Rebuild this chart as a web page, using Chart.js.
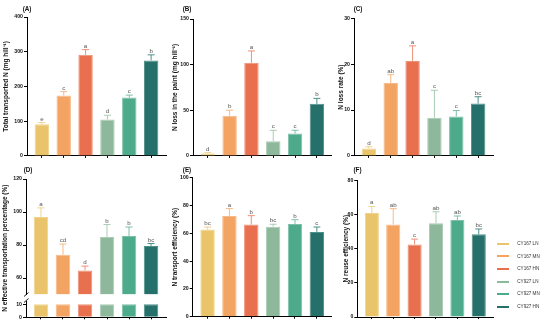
<!DOCTYPE html>
<html><head><meta charset="utf-8">
<script src="https://cdn.jsdelivr.net/npm/chart.js@4.4.1/dist/chart.umd.min.js"></script>
<style>
html,body{margin:0;padding:0;background:#fff;}
#wrap{position:relative;width:550px;height:323px;overflow:hidden;background:#fff;}
#wrap canvas{position:absolute;}
</style></head><body>
<div id="wrap"></div>
<script>
// ---------- data ----------
const categories = ['CY167 LN','CY167 MN','CY167 HN','CY927 LN','CY927 MN','CY927 HN'];

const totalN      = [91, 174, 291, 105, 168, 275];
const totalNErr   = [5, 11, 15, 12, 7, 16];
const totalNSig   = ['e','c','a','d','c','b'];
const totalNTicks = [0, 100, 200, 300, 400];

const lossN      = [2.5, 44, 102, 16, 24.6, 57];
const lossNErr   = [1, 6, 13, 12, 3.5, 6];
const lossNSig   = ['d','b','a','c','c','b'];
const lossNTicks = [0, 50, 100, 150];

const lossRate      = [1.6, 15.9, 20.7, 8.3, 8.6, 11.4];
const lossRateErr   = [0.4, 1.8, 3.3, 6.0, 1.3, 1.5];
const lossRateSig   = ['d','ab','a','c','c','bc'];
const lossRateTicks = [0, 10, 20, 30];

const effTrans       = [97, 74.1, 64.6, 84.8, 85.4, 79.4];
const effTransErr    = [5.5, 6.5, 2.6, 7.6, 5.5, 1.5];
const effTransSig    = ['a','cd','d','b','b','bc'];
const effTransTicksUpper = [60, 80, 100, 120];
const effTransTicksLower = [0, 10];
const effTransBreakLow = 10;   // top of lower segment
const effTransBreakHigh = 50;  // bottom of upper segment

const transEff      = [62.7, 72.5, 66.3, 64.8, 66.7, 61.0];
const transEffErr   = [1.8, 5.3, 6.4, 1.7, 3.1, 3.5];
const transEffSig   = ['bc','a','b','bc','b','c'];
const transEffTicks = [0, 20, 40, 60, 80, 100];

const reuseEff      = [60.8, 54.1, 42.5, 54.8, 56.8, 48.4];
const reuseEffErr   = [3.9, 9.3, 3.1, 6.8, 2.3, 3.1];
const reuseEffSig   = ['a','ab','c','ab','ab','bc'];
const reuseEffTicks = [0, 20, 40, 60, 80];

// ---------- styles ----------
const FONT = "'Liberation Sans', Arial, Helvetica, sans-serif";
Chart.defaults.font.family = FONT;
Chart.defaults.animation = false;
const FILL  = ['#E9C46B','#F3A463','#E8704F','#8DB89B','#4DAA8B','#25706A'];
const LIGHT = ['#F0D48E','#F6BA88','#EE9077','#ABCBB5','#7DC0A8','#50908A'];

function makeCanvas(x, y, w, h) {
  const c = document.createElement('canvas');
  c.width = w; c.height = h;
  c.style.left = x + 'px'; c.style.top = y + 'px';
  c.style.width = w + 'px'; c.style.height = h + 'px';
  document.getElementById('wrap').appendChild(c);
  return c;
}

const annotPlugin = {
  id: 'annot',
  afterDatasetsDraw(chart, args, o) {
    const ctx = chart.ctx;
    const meta = chart.getDatasetMeta(0);
    const ys = chart.scales[o.yID];
    ctx.save();
    if (o.breakAxis) {
      const L = chart.chartArea.left;
      const yA = ys.getPixelForValue(o.breakAxis);
      ctx.fillStyle = '#fff';
      ctx.fillRect(L - 2, yA + 0.5, 4, 6);
      ctx.strokeStyle = '#000'; ctx.lineWidth = 0.9;
      ctx.beginPath();
      ctx.moveTo(L - 2, yA + 2); ctx.lineTo(L + 2.5, yA - 2);
      ctx.moveTo(L - 2, yA + 8); ctx.lineTo(L + 2.5, yA + 4);
      ctx.stroke();
    }
    o.values.forEach((v, i) => {
      const x = meta.data[i].x;
      const y0 = ys.getPixelForValue(v);
      const y1 = ys.getPixelForValue(v + o.errs[i]);
      ctx.strokeStyle = LIGHT[i]; ctx.lineWidth = 1;
      ctx.beginPath();
      ctx.moveTo(x, y0); ctx.lineTo(x, y1);
      ctx.moveTo(x - 3.5, y1); ctx.lineTo(x + 3.5, y1);
      ctx.stroke();
      ctx.fillStyle = '#555';
      ctx.font = '6.2px ' + FONT;
      ctx.textAlign = 'center'; ctx.textBaseline = 'alphabetic';
      ctx.fillText(o.sig[i], x, y1 - 2);
    });
    ctx.fillStyle = '#111';
    ctx.font = 'bold 6.3px ' + FONT;
    ctx.textAlign = 'center'; ctx.textBaseline = 'middle';
    ctx.fillText(o.label, o.labelX, o.labelY);
    ctx.restore();
  }
};

function xScale() {
  return {
    type: 'linear', min: -0.68, max: 5.68, offset: false,
    afterBuildTicks: s => { s.ticks = categories.map((c, i) => ({ value: i })); },
    afterFit: s => { s.height = 3; },
    ticks: { display: false },
    grid: { display: true, offset: false, drawOnChartArea: false, drawTicks: true, tickLength: 2, color: '#000', lineWidth: 1 },
    border: { display: true, color: '#000', width: 1 }
  };
}

function yScale(o) {
  const s = {
    type: 'linear', position: 'left', min: o.min, max: o.max, offset: false,
    afterBuildTicks: sc => { sc.ticks = o.ticks.map(v => ({ value: v })); },
    afterFit: sc => { sc.width = o.width; },
    ticks: { font: { size: 5.2, weight: 'bold' }, color: '#111', padding: 1 },
    grid: { display: true, drawOnChartArea: false, drawTicks: true, tickLength: 3, color: '#000', lineWidth: 1 },
    border: { display: true, color: '#000', width: 1 },
    title: o.title ? { display: true, text: o.title, font: { size: 6.5, weight: 'bold' }, color: '#111', padding: { top: o.titlePad, bottom: 0 } } : { display: false }
  };
  if (o.stack) { s.stack = o.stack; s.stackWeight = o.stackWeight; s.weight = o.weight; }
  return s;
}

function barDataset(vals, yID, extra) {
  return Object.assign({
    data: vals.map((v, i) => ({ x: i, y: v })),
    yAxisID: yID,
    backgroundColor: FILL, borderColor: LIGHT, borderWidth: 1,
    categoryPercentage: 1, barPercentage: 0.66, grouped: false
  }, extra || {});
}

function baseOptions(padding, scales, annot) {
  return {
    responsive: false, devicePixelRatio: 1, animation: false,
    layout: { padding },
    scales,
    plugins: {
      legend: { display: false },
      tooltip: { enabled: false },
      annot
    }
  };
}

// ---------- Panel A ----------
new Chart(makeCanvas(0, 0, 168, 160), {
  type: 'bar',
  data: { datasets: [barDataset(totalN, 'y')] },
  options: baseOptions({ left: 0, top: 17, right: 2, bottom: 0 },
    { x: xScale(), y: yScale({ min: 0, max: 400, ticks: totalNTicks, width: 27, title: 'Total transported N (mg hill\u207B\u00B9)', titlePad: 2.6 }) },
    { yID: 'y', values: totalN, errs: totalNErr, sig: totalNSig, label: '(A)', labelX: 27, labelY: 9 }),
  plugins: [annotPlugin]
});

// ---------- Panel B ----------
new Chart(makeCanvas(168, 0, 167, 160), {
  type: 'bar',
  data: { datasets: [barDataset(lossN, 'y')] },
  options: baseOptions({ left: 0, top: 19, right: 3.3, bottom: 0 },
    { x: xScale(), y: yScale({ min: 0, max: 150, ticks: lossNTicks, width: 25, title: 'N loss in the paint (mg hill\u207B\u00B9)', titlePad: 3.8 }) },
    { yID: 'y', values: lossN, errs: lossNErr, sig: lossNSig, label: '(B)', labelX: 19, labelY: 9 }),
  plugins: [annotPlugin]
});

// ---------- Panel C ----------
new Chart(makeCanvas(335, 0, 215, 160), {
  type: 'bar',
  data: { datasets: [barDataset(lossRate, 'y')] },
  options: baseOptions({ left: 0, top: 18.3, right: 57, bottom: 0.3 },
    { x: xScale(), y: yScale({ min: 0, max: 30, ticks: lossRateTicks, width: 19, title: 'N loss rate (%)', titlePad: 2.5 }) },
    { yID: 'y', values: lossRate, errs: lossRateErr, sig: lossRateSig, label: '(C)', labelX: 23, labelY: 9 }),
  plugins: [annotPlugin]
});

// ---------- Panel D (broken axis) ----------
new Chart(makeCanvas(0, 160, 168, 163), {
  type: 'bar',
  data: { datasets: [
    barDataset(effTrans, 'yTop', { base: effTransBreakHigh }),
    barDataset(effTrans.map(v => Math.min(v, effTransBreakLow)), 'yBot')
  ] },
  options: baseOptions({ left: 0, top: 19, right: 2, bottom: 2.7 },
    {
      x: xScale(),
      yT: {
        type: 'linear', position: 'left', weight: 10,
        afterFit: sc => { sc.width = 9; },
        ticks: { display: false }, grid: { display: false }, border: { display: false },
        title: { display: true, text: 'N effective transportation percentage (%)', font: { size: 6.5, weight: 'bold' }, color: '#111', padding: { top: 1.8, bottom: 0 } }
      },
      yTop: yScale({ min: effTransBreakHigh, max: 120, ticks: effTransTicksUpper, width: 17, stack: 'd', stackWeight: 115.5, weight: 1 }),
      yBot: yScale({ min: 0, max: 17.5, ticks: effTransTicksLower, width: 17, stack: 'd', stackWeight: 22.8, weight: 0 })
    },
    { yID: 'yTop', values: effTrans, errs: effTransErr, sig: effTransSig, label: '(D)', labelX: 28, labelY: 10.5, breakAxis: effTransBreakHigh }),
  plugins: [annotPlugin]
});

// ---------- Panel E ----------
new Chart(makeCanvas(168, 160, 167, 163), {
  type: 'bar',
  data: { datasets: [barDataset(transEff, 'y')] },
  options: baseOptions({ left: 0, top: 17.7, right: 3.3, bottom: 3.3 },
    { x: xScale(), y: yScale({ min: 0, max: 100, ticks: transEffTicks, width: 24.7, title: 'N transport efficiency (%)', titlePad: 3.8 }) },
    { yID: 'y', values: transEff, errs: transEffErr, sig: transEffSig, label: '(E)', labelX: 19, labelY: 10.5 }),
  plugins: [annotPlugin]
});

// ---------- Panel F ----------
new Chart(makeCanvas(335, 160, 215, 163), {
  type: 'bar',
  data: { datasets: [barDataset(reuseEff, 'y')] },
  options: baseOptions({ left: 0, top: 20.3, right: 56.7, bottom: 3 },
    { x: xScale(), y: yScale({ min: 0, max: 80, ticks: reuseEffTicks, width: 22.3, title: 'N reuse efficiency (%)', titlePad: 7.2 }) },
    { yID: 'y', values: reuseEff, errs: reuseEffErr, sig: reuseEffSig, label: '(F)', labelX: 22.5, labelY: 10.5 }),
  plugins: [annotPlugin]
});

// ---------- Legend (shared) ----------
function lineImg(color) {
  const c = document.createElement('canvas');
  c.width = 18; c.height = 2;
  const g = c.getContext('2d');
  g.fillStyle = color; g.fillRect(0, 0, 12, 2);
  return c;
}
const legendImgs = FILL.map(lineImg);

new Chart(makeCanvas(489, 230, 61, 240), {
  type: 'bar',
  data: { labels: [], datasets: [] },
  options: {
    responsive: false, devicePixelRatio: 1, animation: false,
    layout: { padding: { left: 0, top: 3.4, right: 0, bottom: 0 } },
    scales: { x: { display: false }, y: { display: false } },
    plugins: {
      tooltip: { enabled: false },
      legend: {
        display: true, position: 'top', align: 'start',
        labels: {
          usePointStyle: true, pointStyleWidth: 18, padding: 8,
          font: { size: 4.6 }, color: '#333',
          generateLabels: () => categories.map((c, i) => ({
            text: c, pointStyle: legendImgs[i], fillStyle: FILL[i], strokeStyle: FILL[i],
            lineWidth: 0, hidden: false, datasetIndex: 0, index: i, fontColor: '#333'
          }))
        }
      }
    }
  }
});
</script>
</body></html>
